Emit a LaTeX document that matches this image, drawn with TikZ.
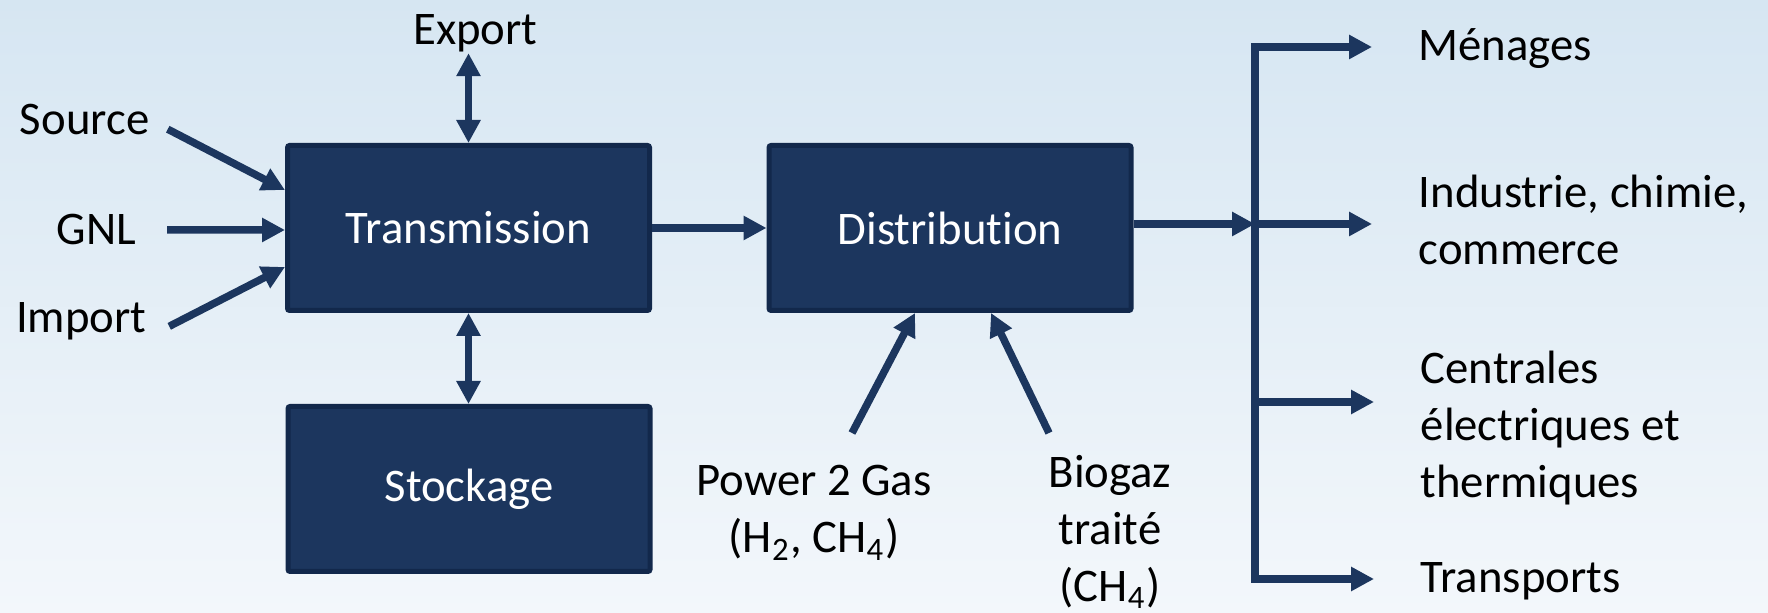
\documentclass[tikz,border=0pt]{standalone}
\usepackage{fontspec}
\setmainfont{Carlito}[Ligatures=NoCommon]
\usepackage{xcolor}
\usetikzlibrary{positioning,arrows.meta}
\definecolor{GasNavy}{HTML}{1C365E}
\definecolor{GasEdge}{HTML}{12284B}
\definecolor{SkyTop}{HTML}{D6E6F2}
\definecolor{SkyBot}{HTML}{F3F7FB}

\begin{document}
\begin{tikzpicture}[
  font=\fontsize{13.3}{16.2}\selectfont,
  box/.style={draw=GasEdge,fill=GasNavy,line width=0.05cm,rounded corners=0.6pt,
    minimum width=3.62cm,minimum height=1.65cm,text=white},
  lab/.style={inner sep=0pt,align=left},
  flow/.style={draw=GasNavy,line width=0.075cm,-{Triangle[length=0.23cm,width=0.23cm]}},
  twoway/.style={flow,{Triangle[length=0.23cm,width=0.23cm]}-{Triangle[length=0.23cm,width=0.23cm]}}]
  \shade[top color=SkyTop,bottom color=SkyBot] (0,0) rectangle (17.68,6.13);

  % main blocks
  \node[box] (trans) at (4.685,3.85) {Transmission};
  \node[box] (stock) at (4.69,1.24) {Stockage};
  \node[box] (dist) at (9.50,3.85) {Distribution};

  % supply side
  \node[lab,anchor=base east] (source) at (1.50,4.78) {Source};
  \node[lab,anchor=base east] (gnl) at (1.37,3.68) {GNL};
  \node[lab,anchor=base east] (import) at (1.47,2.80) {Import};
  \node[lab,anchor=base] (export) at (4.755,5.68) {Export};
  \draw[flow,shorten <=0.2cm] (source.east) -- ([yshift=0.38cm]trans.west);
  \draw[flow,shorten <=0.3cm] (gnl.east) -- ([yshift=-0.02cm]trans.west);
  \draw[flow,shorten <=0.25cm] ([yshift=-0.16cm]import.east) -- ([yshift=-0.39cm]trans.west);
  \draw[twoway] (trans.north) -- (trans.north |- export.south);
  \draw[twoway] (trans.south) -- (trans.south |- stock.north);
  \draw[flow] (trans.east) -- (dist.west);

  % injections into distribution
  \node[lab,align=center] (p2g) at (8.14,1.00) {Power 2 Gas\\(H\textsubscript{2}, CH\textsubscript{4})};
  \node[lab,align=center] (biogaz) at (11.10,0.81) {Biogaz\\traité\\(CH\textsubscript{4})};
  \coordinate (p2gtail) at (8.52,1.80);
  \coordinate (biotail) at (10.49,1.80);
  \draw[flow] (p2gtail) -- ([xshift=-0.35cm]dist.south);
  \draw[flow] (biotail) -- ([xshift=0.41cm]dist.south);

  % consumers
  \coordinate (b1) at (12.55,5.66);
  \coordinate (b2) at (12.55,3.89);
  \coordinate (b3) at (12.55,2.11);
  \coordinate (b4) at (12.55,0.34);
  \draw[GasNavy,line width=0.075cm,line cap=rect] (b1) -- (b4);
  \draw[flow] (dist.east |- b2) -- (b2);
  \node[lab,anchor=base west] (menages) at (14.18,5.52) {Ménages};
  \node[lab,anchor=west] (industrie) at (14.18,3.93) {Industrie, chimie,\\commerce};
  \node[lab,anchor=west] (centrales) at (14.20,1.85) {Centrales\\électriques et\\thermiques};
  \node[lab,anchor=base west] (transports) at (14.20,0.20) {Transports};
  \foreach \b/\t in {b1/menages,b2/industrie,b3/centrales,b4/transports}
    \draw[flow,shorten >=0.46cm] (\b) -- (\b -| \t.west);
\end{tikzpicture}
\end{document}
